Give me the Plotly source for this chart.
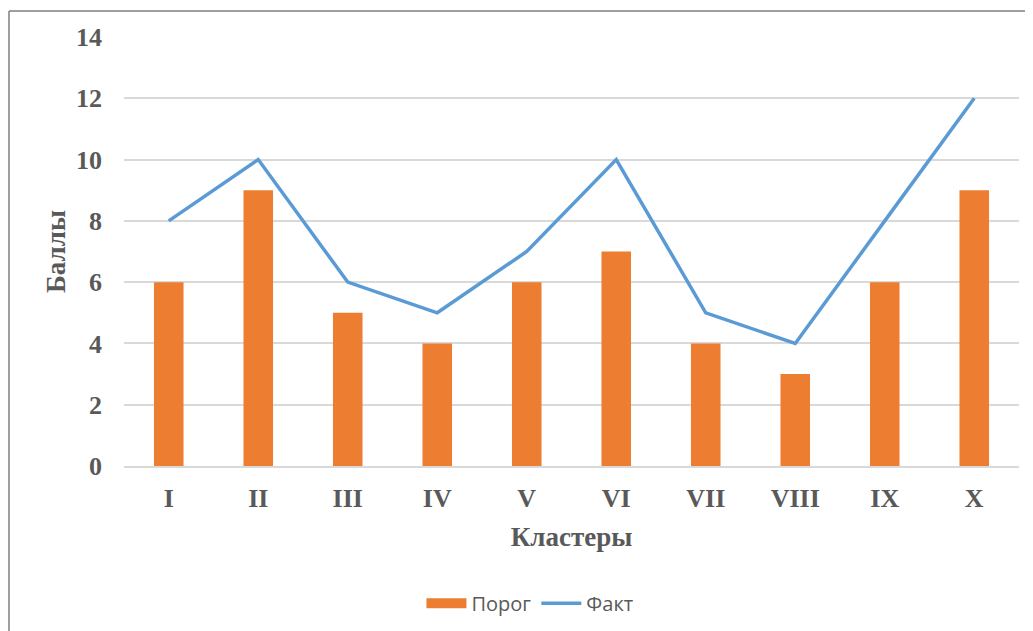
import plotly.graph_objects as go

categories = ["I", "II", "III", "IV", "V", "VI", "VII", "VIII", "IX", "X"]
porog = [6, 9, 5, 4, 6, 7, 4, 3, 6, 9]
fakt = [8, 10, 6, 5, 7, 10, 5, 4, 8, 12]

ORANGE = "#ED7D31"
BLUE = "#5B9BD5"

fig = go.Figure()
fig.add_trace(go.Bar(x=categories, y=porog, name="Порог", marker_color=ORANGE,
                     marker_line_width=0, showlegend=False, legendgroup="p"))
fig.add_trace(go.Scatter(x=[None], y=[None], name="Порог", mode="lines",
                         line=dict(color=ORANGE, width=11), legendgroup="p"))
fig.add_trace(go.Scatter(x=categories, y=fakt, name="Факт", mode="lines",
                         line=dict(color=BLUE, width=3.5)))

serif = "Liberation Serif, Times New Roman, serif"
fig.update_layout(
    width=1025, height=623,
    paper_bgcolor="white", plot_bgcolor="white",
    margin=dict(l=116, r=14, t=29, b=165, autoexpand=False),
    bargap=0.67,
    showlegend=True,
    legend=dict(orientation="h", x=0.4536, xanchor="center", y=-0.32, yanchor="middle",
                font=dict(family="Open Sans, Liberation Sans, sans-serif", size=20, color="#595959"),
                itemwidth=40, tracegroupgap=0),
    xaxis=dict(
        automargin=False,
        showgrid=False, showline=True, linecolor="#D9D9D9", linewidth=1.5,
        tickfont=dict(family=serif, size=26, color="#595959", weight="bold"),
        ticklabelstandoff=8,
        title=dict(text="<b>Кластеры</b>", font=dict(family=serif, size=27, color="#595959"),
                   standoff=15),
    ),
    yaxis=dict(
        automargin=False,
        range=[0, 14], dtick=2, showgrid=True, gridcolor="#D9D9D9", gridwidth=1.5,
        zeroline=False, showline=False,
        tickfont=dict(family=serif, size=26, color="#595959", weight="bold"),
        ticklabelstandoff=21,
        title=dict(text="<b>Баллы</b>", font=dict(family=serif, size=27, color="#595959"),
                   standoff=2),
    ),
)

fig.add_shape(type="line", xref="paper", yref="paper", x0=-0.1285, x1=1.02, y0=1.0606, y1=1.0606,
              line=dict(color="#7F7F7F", width=1.5))
fig.add_shape(type="line", xref="paper", yref="paper", x0=-0.1285, x1=-0.1285, y0=1.0606, y1=-0.4,
              line=dict(color="#7F7F7F", width=1.5))

fig.write_html("out.html")
